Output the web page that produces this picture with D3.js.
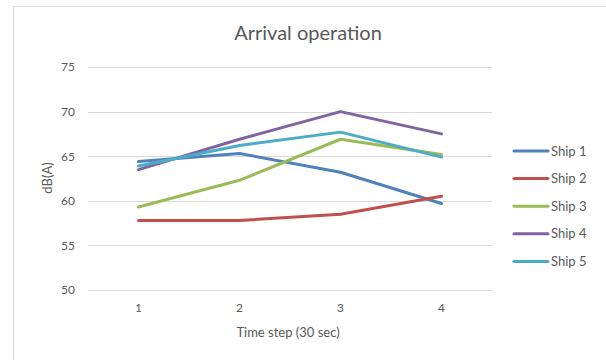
<!DOCTYPE html>
<html>
<head>
<meta charset="utf-8">
<script src="https://cdn.jsdelivr.net/npm/d3@7"></script>
<style>
  html, body { margin: 0; padding: 0; background: #fff; }
  svg { display: block; font-family: Lato, "Open Sans", sans-serif; }
</style>
</head>
<body>
<svg id="chart" width="606" height="360"></svg>
<script>
// Noise level per ship at each 30-second time step
const timeSteps = [1, 2, 3, 4];
const shipNames = ["Ship 1", "Ship 2", "Ship 3", "Ship 4", "Ship 5"];
const ship1 = [64.4, 65.3, 63.2, 59.7];
const ship2 = [57.8, 57.8, 58.5, 60.5];
const ship3 = [59.3, 62.3, 66.9, 65.2];
const ship4 = [63.5, 66.9, 70.0, 67.5];
const ship5 = [63.9, 66.2, 67.7, 64.9];
const yTicks = [50, 55, 60, 65, 70, 75];
const shipColors = ["#4f81bd", "#c0504d", "#9bbb59", "#8064a2", "#4bacc6"];

const seriesValues = [ship1, ship2, ship3, ship4, ship5];

const svg = d3.select("#chart");
const textColor = "#595959";

// chart area frame
svg.append("path")
  .attr("d", "M13.5,362 V6.5 H606")
  .attr("fill", "none")
  .attr("stroke", "#d9d9d9")
  .attr("stroke-width", 1);

const plot = { left: 88, right: 492, top: 67, bottom: 290 };

const x = d3.scaleBand()
  .domain(timeSteps)
  .range([plot.left, plot.right]);

const y = d3.scaleLinear()
  .domain([50, 75])
  .range([plot.bottom, plot.top]);

// horizontal gridlines
svg.append("g")
  .selectAll("line")
  .data(yTicks)
  .join("line")
  .attr("x1", plot.left)
  .attr("x2", plot.right)
  .attr("y1", d => Math.round(y(d)) + 0.5)
  .attr("y2", d => Math.round(y(d)) + 0.5)
  .attr("stroke", "#d9d9d9")
  .attr("stroke-width", 1);

// y axis tick labels
const yAxis = d3.axisLeft(y).tickValues(yTicks).tickSize(0).tickPadding(0);
svg.append("g")
  .attr("transform", `translate(${plot.left - 13},0)`)
  .call(yAxis)
  .call(g => g.select(".domain").remove())
  .call(g => g.selectAll("text")
    .attr("fill", textColor)
    .attr("font-size", 12)
    .attr("font-family", "Lato, sans-serif"));

// x axis tick labels
const xAxis = d3.axisBottom(x).tickSize(0).tickPadding(0);
svg.append("g")
  .attr("transform", `translate(0,${plot.bottom + 13})`)
  .call(xAxis)
  .call(g => g.select(".domain").remove())
  .call(g => g.selectAll("text")
    .attr("fill", textColor)
    .attr("font-size", 12)
    .attr("font-family", "Lato, sans-serif"));

// title
svg.append("text")
  .attr("x", 308)
  .attr("y", 40)
  .attr("text-anchor", "middle")
  .attr("fill", textColor)
  .attr("font-size", 20)
  .text("Arrival operation");

// axis titles
svg.append("text")
  .attr("x", 288)
  .attr("y", 337)
  .attr("text-anchor", "middle")
  .attr("fill", textColor)
  .attr("font-size", 13)
  .text("Time step (30 sec)");

svg.append("text")
  .attr("transform", "translate(52,178) rotate(-90)")
  .attr("text-anchor", "middle")
  .attr("fill", textColor)
  .attr("font-size", 13)
  .text("dB(A)");

// series lines
const line = d3.line()
  .x((d, i) => x(timeSteps[i]) + x.bandwidth() / 2)
  .y(d => y(d));

svg.append("g")
  .selectAll("path")
  .data(seriesValues)
  .join("path")
  .attr("d", d => line(d))
  .attr("fill", "none")
  .attr("stroke", (d, i) => shipColors[i])
  .attr("stroke-width", 3)
  .attr("stroke-linejoin", "round")
  .attr("stroke-linecap", "round");

// legend
const legend = svg.append("g")
  .selectAll("g")
  .data(shipNames)
  .join("g")
  .attr("transform", (d, i) => `translate(514,${151 + i * 27.6})`);

legend.append("line")
  .attr("x1", 0)
  .attr("x2", 34)
  .attr("stroke", (d, i) => shipColors[i])
  .attr("stroke-width", 3)
  .attr("stroke-linecap", "round");

legend.append("text")
  .attr("x", 37)
  .attr("dy", "0.35em")
  .attr("fill", textColor)
  .attr("font-size", 13)
  .text(d => d);
</script>
</body>
</html>
